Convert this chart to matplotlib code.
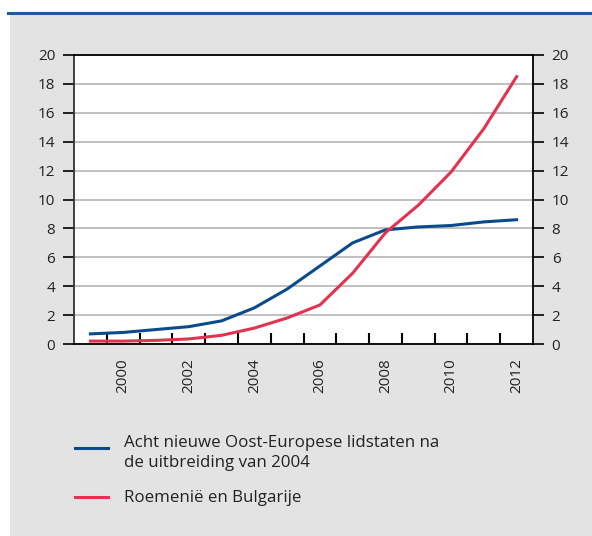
import matplotlib
matplotlib.use("Agg")
import matplotlib.pyplot as plt
from matplotlib.lines import Line2D
from matplotlib.patches import Rectangle
from matplotlib.ticker import MultipleLocator, FixedLocator

plt.rcParams["font.family"] = ["Open Sans", "DejaVu Sans"]

# --- data ---
jaren = list(range(1999, 2013))
oost_europa = [0.7, 0.8, 1.0, 1.2, 1.6, 2.5, 3.8, 5.4, 7.0, 7.9, 8.1, 8.2, 8.45, 8.6]
roem_bulg = [0.2, 0.2, 0.25, 0.35, 0.6, 1.1, 1.8, 2.7, 4.9, 7.7, 9.6, 11.9, 14.9, 18.5]
labels = ["Acht nieuwe Oost-Europese lidstaten na\nde uitbreiding van 2004",
          "Roemenië en Bulgarije"]

BLAUW = "#0b4a8c"
ROOD = "#e1324f"
GRIJS = "#e3e3e3"
TXT = "#222222"

W, H = 592, 536
fig = plt.figure(figsize=(W / 100, H / 100), dpi=100, facecolor="white")

# achtergrond en blauwe lijn bovenaan
fig.add_artist(Rectangle((10 / W, 0), 1, 1 - 13 / H, transform=fig.transFigure,
                         facecolor=GRIJS, edgecolor="none", zorder=-10))
fig.add_artist(Line2D([8 / W, 1], [1 - 12.5 / H] * 2, transform=fig.transFigure,
                      color="#1d5c9c", lw=2.2))

ax = fig.add_axes([74 / W, 1 - 344 / H, (533 - 74) / W, (344 - 55) / H])
ax.set_facecolor("white")

x = list(range(len(jaren)))
ax.plot(x, oost_europa, color=BLAUW, lw=2.2, zorder=3)
ax.plot(x, roem_bulg, color=ROOD, lw=2.2, zorder=3)

ax.set_xlim(-0.5, len(jaren) - 0.5)
ax.set_ylim(0, 20)
ax.yaxis.set_major_locator(MultipleLocator(2))
ax.grid(axis="y", color="#b5b5b5", lw=1.2, zorder=0)
ax.set_axisbelow(True)

# categorie-as: labels op midden, streepjes op grenzen
ax.xaxis.set_major_locator(FixedLocator([i for i, j in enumerate(jaren) if j % 2 == 0]))
ax.set_xticklabels([str(j) for j in jaren if j % 2 == 0], rotation=90,
                   fontsize=11, color=TXT)
ax.xaxis.set_minor_locator(FixedLocator([i + 0.5 for i in range(len(jaren) - 1)]))
ax.tick_params(axis="x", which="major", length=0, pad=10)
ax.tick_params(axis="x", which="minor", direction="in", length=8, width=1.5, color="black")

ax.tick_params(axis="y", which="major", direction="out", length=8, width=1.2,
               labelsize=11, labelcolor=TXT, left=True, right=True,
               labelleft=True, labelright=True, pad=5.5)

for s in ax.spines.values():
    s.set_color("black")
    s.set_linewidth(1.3)
ax.spines["left"].set_color("#333333")

# legenda
for (yy, col, lab, ty) in [(448, BLAUW, labels[0], 453), (497, ROOD, labels[1], 498)]:
    fig.add_artist(Line2D([75 / W, 108 / W], [1 - yy / H] * 2, transform=fig.transFigure,
                          color=col, lw=2.2))
    fig.text(124 / W, 1 - ty / H, lab, fontsize=12.2, color=TXT, va="center",
             ha="left", linespacing=1.3)

fig.savefig("out.png", dpi=100, facecolor=fig.get_facecolor())
